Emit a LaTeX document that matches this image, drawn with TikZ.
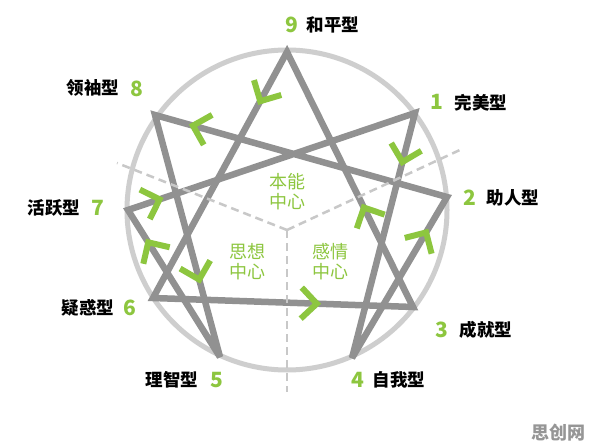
\documentclass[tikz,border=0pt]{standalone}
\usepackage{fontspec}
\newfontfamily\cjk{Noto Sans CJK SC}
\usetikzlibrary{calc}
\definecolor{eg}{RGB}{141,198,63}
\definecolor{ringc}{RGB}{206,206,206}
\definecolor{linec}{RGB}{145,145,145}
\definecolor{dashc}{RGB}{200,200,200}
\definecolor{wmc}{RGB}{150,150,150}
\newcommand\chev[3]{%
  \coordinate (ch) at ($(#1)!#3!(#2)$);
  \draw[chevst] ($(ch)!22pt!45:(#1)$) -- (ch) -- ($(ch)!22pt!-45:(#1)$);}
\begin{document}
\begin{tikzpicture}[x=1pt,y=-1pt,
  ring/.style={draw=ringc,line width=5pt},
  starline/.style={draw=linec,line width=6.5pt,line join=miter,miter limit=3},
  dashline/.style={draw=dashc,line width=2.5pt,dash pattern=on 8pt off 5pt},
  chevst/.style={draw=eg,line width=6pt,line join=miter},
  num/.style={text=eg,font=\cjk\bfseries\fontsize{21}{21}\selectfont,inner sep=0pt},
  lab/.style={text=black,font=\cjk\bfseries\fontsize{17.5}{18}\selectfont,inner sep=0pt},
  cen/.style={text=eg,font=\cjk\fontsize{18}{20}\selectfont,align=center,inner sep=0pt},
  wm/.style={text=wmc,font=\cjk\bfseries\fontsize{18}{18}\selectfont,inner sep=0pt}]
\fill[white] (0,0) rectangle (596,446);
\useasboundingbox (0,0) rectangle (596,446);
\coordinate (c) at (287,210);
\coordinate (p9) at (287,52);
\coordinate (p1) at (415,113);
\coordinate (p2) at (447,197);
\coordinate (p3) at (413,307);
\coordinate (p4) at (352,358);
\coordinate (p5) at (220,357);
\coordinate (p6) at (153,298);
\coordinate (p7) at (128,210);
\coordinate (p8) at (155,115);
\coordinate (dc) at (287,230);
\coordinate (d1) at (117,163);
\coordinate (d2) at (462,149);
\coordinate (d3) at (287,392);
% ring
\draw[ring] (c) circle[radius=160pt];
% star lines
\draw[starline] (p9) -- (p3) -- (p6) -- cycle;
\draw[starline] (p1) -- (p4) -- (p2) -- (p8) -- (p5) -- (p7) -- cycle;
% dashed centre dividers
\draw[dashline] (dc) -- (d1);
\draw[dashline] (dc) -- (d2);
\draw[dashline] (dc) -- (d3);
% arrows
\chev{p9}{p6}{0.20}
\chev{p2}{p8}{0.87}
\chev{p7}{p1}{0.11}
\chev{p5}{p7}{0.78}
\chev{p8}{p5}{0.68}
\chev{p1}{p4}{0.20}
\chev{p3}{p9}{0.39}
\chev{p4}{p2}{0.78}
\chev{p6}{p3}{0.63}
% centre labels
\node[cen] (cb) at (287,192) {本能\\中心};
\node[cen] (cs) at (247,262) {思想\\中心};
\node[cen] (cq) at (330,262) {感情\\中心};
% point labels
\node[num] (n9) at (292,25) {9};
\node[lab] (t9) at (333,25) {和平型};
\node[num] (n8) at (137,89) {8};
\node[lab] (t8) at (93,88) {领袖型};
\node[num] (n1) at (437,102) {1};
\node[lab] (t1) at (481,103) {完美型};
\node[num] (n2) at (470,198) {2};
\node[lab] (t2) at (513,198) {助人型};
\node[num] (n3) at (442,330) {3};
\node[lab] (t3) at (486,330) {成就型};
\node[num] (n4) at (358,380) {4};
\node[lab] (t4) at (399,380) {自我型};
\node[num] (n5) at (217,380) {5};
\node[lab] (t5) at (172,380) {理智型};
\node[num] (n6) at (130,308) {6};
\node[lab] (t6) at (88,308) {疑惑型};
\node[num] (n7) at (98,208) {7};
\node[lab] (t7) at (54,208) {活跃型};
\node[wm] (wmk) at (558,433) {思创网};
\end{tikzpicture}
\end{document}
